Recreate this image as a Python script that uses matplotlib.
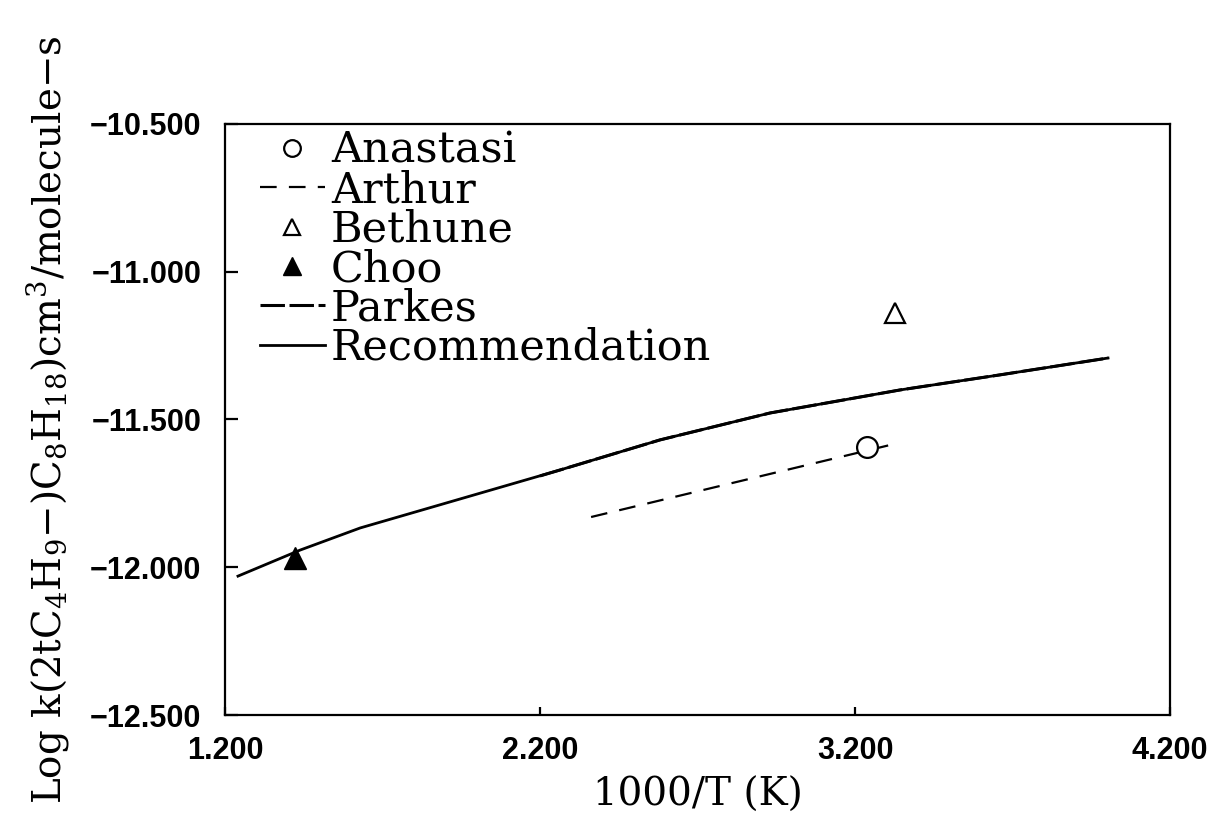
import numpy as np
import matplotlib
matplotlib.use("Agg")
import matplotlib.pyplot as plt
from matplotlib.ticker import FuncFormatter

# values
rec_x = [1.241, 1.438, 1.629, 1.946, 2.263, 2.581, 2.930, 3.343, 3.660, 4.003]
rec_y = [-12.030, -11.942, -11.867, -11.769, -11.671, -11.569, -11.478, -11.400, -11.349, -11.292]

parkes_x = [2.200, 2.263, 2.581, 2.930, 3.343, 3.660, 4.003]
parkes_y = [-11.691, -11.671, -11.569, -11.478, -11.400, -11.349, -11.292]

arthur_x = [2.362, 3.324]
arthur_y = [-11.830, -11.583]

anastasi_x = [3.238]
anastasi_y = [-11.593]
bethune_x = [3.327]
bethune_y = [-11.140]
choo_x = [1.422]
choo_y = [-11.969]

xticks = [1.2, 2.2, 3.2, 4.2]
yticks = [-12.5, -12.0, -11.5, -11.0, -10.5]

plt.rcParams['mathtext.fontset'] = 'dejavuserif'

fig = plt.figure(figsize=(12.1, 8.14), dpi=100)
ax = fig.add_axes([0.186, 0.1216, 0.781, 0.7261])

ax.plot(anastasi_x, anastasi_y, ls='none', marker='o', ms=15, mfc='white',
        mec='black', mew=1.6, label='Anastasi', zorder=5)
ax.plot(arthur_x, arthur_y, color='black', lw=1.6, dashes=(7.5, 5.5), label='Arthur')
ax.plot(bethune_x, bethune_y, ls='none', marker='^', ms=15, mfc='white',
        mec='black', mew=1.6, label='Bethune')
ax.plot(choo_x, choo_y, ls='none', marker='^', ms=16, color='black', label='Choo')
ax.plot(parkes_x, parkes_y, color='black', lw=2.2, dashes=(8, 1.5), label='Parkes')
ax.plot(rec_x, rec_y, color='black', lw=2.0, label='Recommendation')

ax.set_xlim(1.2, 4.2)
ax.set_ylim(-12.5, -10.5)
ax.set_xticks(xticks)
ax.set_yticks(yticks)
fmt = FuncFormatter(lambda v, p: f"{v:.3f}".replace('-', '\u2212'))
ax.xaxis.set_major_formatter(fmt)
ax.yaxis.set_major_formatter(fmt)

for s in ax.spines.values():
    s.set_linewidth(1.6)
ax.tick_params(axis='y', direction='in', length=9, width=1.6, pad=17)
ax.tick_params(axis='x', direction='in', length=6, width=1.6, pad=15)
for lab in ax.get_xticklabels() + ax.get_yticklabels():
    lab.set_fontfamily('Liberation Sans')
    lab.set_fontsize(22)
    lab.set_fontweight('bold')

ax.set_xlabel('1000/T (K)', fontfamily='DejaVu Serif', fontsize=28, labelpad=8)
ax.set_ylabel(r'Log k(2tC$_4$H$_9$−)C$_8$H$_{18}$)cm$^3$/molecule−s',
              fontfamily='DejaVu Serif', fontsize=28, labelpad=14)

leg = ax.legend(loc='upper left', bbox_to_anchor=(0.037, 0.99), frameon=False,
                prop={'family': 'DejaVu Serif', 'size': 31}, labelspacing=-0.06,
                handlelength=1.5, handletextpad=0.15, borderpad=0, borderaxespad=0,
                markerscale=0.8, numpoints=1)

fig.savefig('out.png', dpi=100)
